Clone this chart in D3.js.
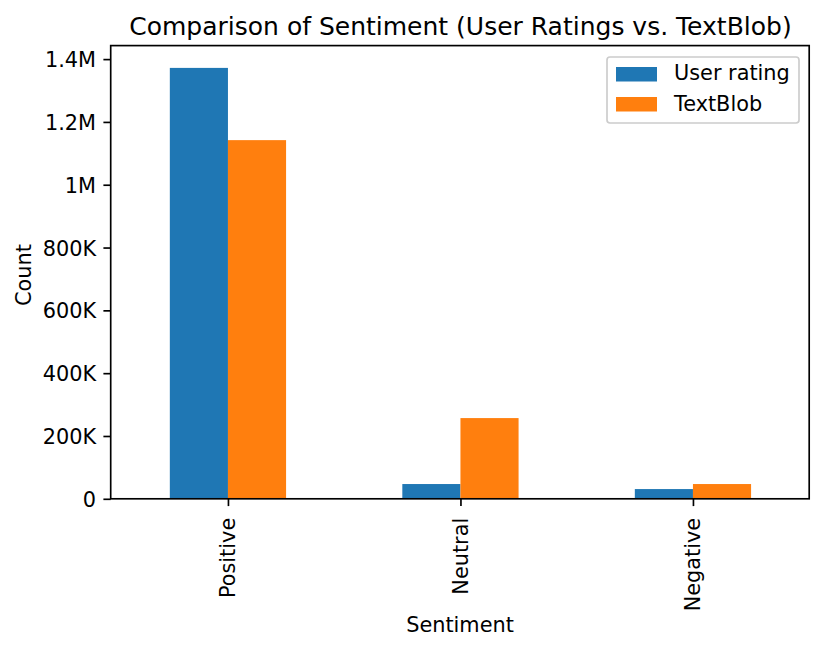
<!DOCTYPE html>
<html>
<head>
<meta charset="utf-8">
<script src="https://cdnjs.cloudflare.com/ajax/libs/d3/7.8.5/d3.min.js"></script>
<style>
html,body{margin:0;padding:0;background:#fff}
svg{display:block}
text{font-family:"DejaVu Sans",sans-serif;fill:#000}
</style>
</head>
<body>
<svg id="c" width="823" height="651"></svg>
<script>
const categories = ["Positive", "Neutral", "Negative"];
const seriesNames = ["User rating", "TextBlob"];
const userRating = [1372000, 47000, 31000];
const textBlob = [1142000, 257000, 47000];
const seriesColors = ["#1f77b4", "#ff7f0e"];
const yTicks = [0, 200000, 400000, 600000, 800000, 1000000, 1200000, 1400000];
const yTickLabels = ["0", "200K", "400K", "600K", "800K", "1M", "1.2M", "1.4M"];
const titleText = "Comparison of Sentiment (User Ratings vs. TextBlob)";

const L = 110.7, R = 809.2, T = 45.6, B = 498.8;
const FS = 20.83, LW = 1.67, TICK = 7.3;
const svg = d3.select("#c");
const x = d3.scaleLinear().domain([-0.5, 2.5]).range([111.7, R]);
const y = d3.scaleLinear().domain([0, 1443000]).range([B, T]);
const barW = x(0.25) - x(0);

[userRating, textBlob].forEach((vals, s) => {
  svg.append("g").selectAll("rect").data(vals).join("rect")
    .attr("x", (d, i) => x(i) + (s === 0 ? -barW : 0))
    .attr("y", d => y(d))
    .attr("width", barW)
    .attr("height", d => y(0) - y(d))
    .attr("fill", seriesColors[s]);
});

const xAxis = d3.axisBottom(x).tickValues(categories.map((c, i) => i))
  .tickFormat(i => categories[i]).tickSize(TICK).tickSizeOuter(0);
const gx = svg.append("g").attr("transform", `translate(0,${B})`).call(xAxis);
gx.select(".domain").remove();
gx.selectAll("line").attr("stroke", "#000").attr("stroke-width", LW);
gx.selectAll("text")
  .attr("font-size", FS)
  .attr("dy", null)
  .attr("y", null)
  .attr("text-anchor", "end")
  .attr("dominant-baseline", "central")
  .attr("transform", "translate(0,19) rotate(-90)");

const yAxis = d3.axisLeft(y).tickValues(yTicks)
  .tickFormat((d, i) => yTickLabels[i]).tickSize(TICK).tickPadding(7.3).tickSizeOuter(0);
const gy = svg.append("g").attr("transform", `translate(${L},0)`).call(yAxis);
gy.select(".domain").remove();
gy.selectAll("line").attr("stroke", "#000").attr("stroke-width", LW);
gy.selectAll("text").attr("font-size", FS).attr("fill", "#000").attr("y", 0.8);

svg.append("rect").attr("x", L).attr("y", T).attr("width", R - L).attr("height", B - T)
  .attr("fill", "none").attr("stroke", "#000").attr("stroke-width", LW);

svg.append("text").attr("x", (L + R) / 2 + 0.5).attr("y", 35).attr("text-anchor", "middle")
  .attr("font-size", 25).text(titleText);
svg.append("text").attr("x", 460).attr("y", 632).attr("text-anchor", "middle")
  .attr("font-size", FS).text("Sentiment");
svg.append("text").attr("transform", "translate(31,275) rotate(-90)").attr("text-anchor", "middle")
  .attr("font-size", FS).text("Count");

const lg = svg.append("g");
lg.append("rect").attr("x", 607).attr("y", 57).attr("width", 192).attr("height", 66).attr("rx", 3)
  .attr("fill", "#fff").attr("fill-opacity", 0.8).attr("stroke", "#ccc").attr("stroke-width", 1.67);
seriesNames.forEach((n, i) => {
  lg.append("rect").attr("x", 616).attr("y", 67 + i * 30).attr("width", 41).attr("height", 14.5)
    .attr("fill", seriesColors[i]);
  lg.append("text").attr("x", 674).attr("y", 80.2 + i * 31).attr("font-size", FS).text(n);
});
</script>
</body>
</html>
